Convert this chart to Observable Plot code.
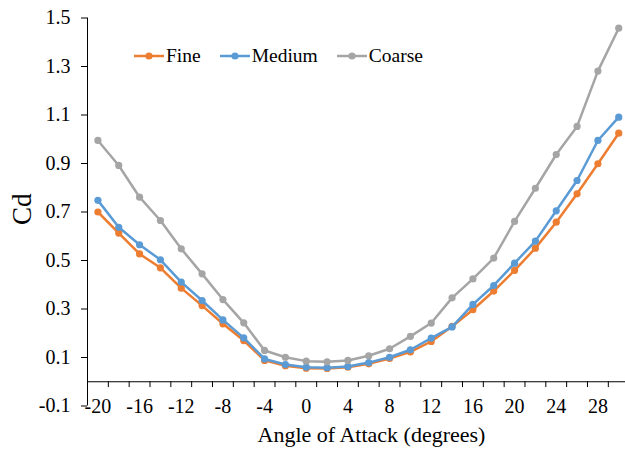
<!DOCTYPE html>
<html>
<head>
<meta charset="utf-8">
<script src="https://cdn.jsdelivr.net/npm/d3@7"></script>
<script src="https://cdn.jsdelivr.net/npm/@observablehq/plot@0.6"></script>
<style>
  body { margin: 0; background: #fff; }
  #wrap { position: relative; width: 625px; height: 449px; font-family: "Liberation Serif", "Times New Roman", serif; color: #000; }
  #legend { position: absolute; left: 134px; top: 44px; display: flex; gap: 19px; font-size: 19.5px; line-height: 24px; }
  .item { display: flex; align-items: center; }
  .item svg { display: block; margin-right: 2px; }
</style>
</head>
<body>
<div id="wrap"><div id="legend"></div></div>
<script>
const angles = [-20,-18,-16,-14,-12,-10,-8,-6,-4,-2,0,2,4,6,8,10,12,14,16,18,20,22,24,26,28,30];
const fine   = [0.700,0.613,0.527,0.470,0.386,0.314,0.239,0.170,0.088,0.066,0.056,0.055,0.060,0.074,0.096,0.123,0.166,0.228,0.297,0.374,0.459,0.551,0.658,0.775,0.899,1.025];
const medium = [0.748,0.637,0.565,0.503,0.411,0.335,0.255,0.181,0.094,0.071,0.060,0.058,0.063,0.079,0.101,0.132,0.180,0.226,0.319,0.397,0.489,0.580,0.705,0.830,0.995,1.091];
const coarse = [0.995,0.892,0.761,0.665,0.548,0.445,0.339,0.243,0.129,0.101,0.085,0.082,0.088,0.107,0.136,0.187,0.242,0.346,0.424,0.510,0.661,0.798,0.937,1.053,1.281,1.458];
const seriesNames = ["Fine", "Medium", "Coarse"];
const seriesColors = ["#ED7D31", "#5B9BD5", "#A5A5A5"];
const yTicks = [-0.1, 0.1, 0.3, 0.5, 0.7, 0.9, 1.1, 1.3, 1.5];
const xTickLabels = [-20,-16,-12,-8,-4,0,4,8,12,16,20,24,28];
const xTickMarks = [-19,-17,-15,-13,-11,-9,-7,-5,-3,-1,1,3,5,7,9,11,13,15,17,19,21,23,25,27,29];
const xLabel = "Angle of Attack (degrees)";
const yLabel = "Cd";

const seriesValues = [fine, medium, coarse];
const rows = seriesNames.flatMap((s, k) => angles.map((a, i) => ({series: s, angle: a, cd: seriesValues[k][i]})));

const seriesMarks = seriesNames.flatMap((s, k) => {
  const d = rows.filter(r => r.series === s);
  return [
    Plot.line(d, {x: "angle", y: "cd", stroke: seriesColors[k], strokeWidth: 2.5}),
    Plot.dot(d, {x: "angle", y: "cd", fill: seriesColors[k], r: 3.6, stroke: "none"})
  ];
});

const chart = Plot.plot({
  width: 625,
  height: 449,
  marginLeft: 87,
  marginRight: 0,
  marginTop: 17.5,
  marginBottom: 43.5,
  style: {fontFamily: "Liberation Serif, Times New Roman, serif", fontSize: "20px", color: "#000", background: "#fff", overflow: "visible"},
  x: {domain: [-21, 30.65], axis: null},
  y: {domain: [-0.1, 1.5], axis: null},
  marks: [
    Plot.axisY(yTicks, {anchor: "left", tickSize: 6, tickPadding: 11, tickFormat: d => d.toFixed(1), label: null, fontSize: 20, stroke: "#000"}),
    Plot.ruleX([-21], {stroke: "#000", strokeWidth: 1}),
    Plot.ruleY([0], {stroke: "#000", strokeWidth: 1}),
    Plot.ruleX(xTickMarks, {x: d => d, y1: 0, y2: -0.024, stroke: "#000", strokeWidth: 1}),
    Plot.text(xTickLabels, {x: d => d, y: 0, dy: 25, text: d => String(d), fontSize: 20, fill: "#000"}),
    Plot.text([xLabel], {frameAnchor: "bottom", lineAnchor: "top", dx: 15, dy: 20, text: d => d, fontSize: 22, fill: "#000"}),
    Plot.text([yLabel], {frameAnchor: "left", dx: -65, dy: 13, rotate: -90, text: d => d, fontSize: 27, fill: "#000"}),
    ...seriesMarks
  ]
});
document.getElementById("wrap").prepend(chart);

const legend = document.getElementById("legend");
seriesNames.forEach((s, k) => {
  const item = document.createElement("div");
  item.className = "item";
  item.innerHTML = `<svg width="30" height="10"><line x1="0" y1="5" x2="30" y2="5" stroke="${seriesColors[k]}" stroke-width="2.5"/><circle cx="15" cy="5" r="3.6" fill="${seriesColors[k]}"/></svg><span>${s}</span>`;
  legend.appendChild(item);
});
</script>
</body>
</html>
